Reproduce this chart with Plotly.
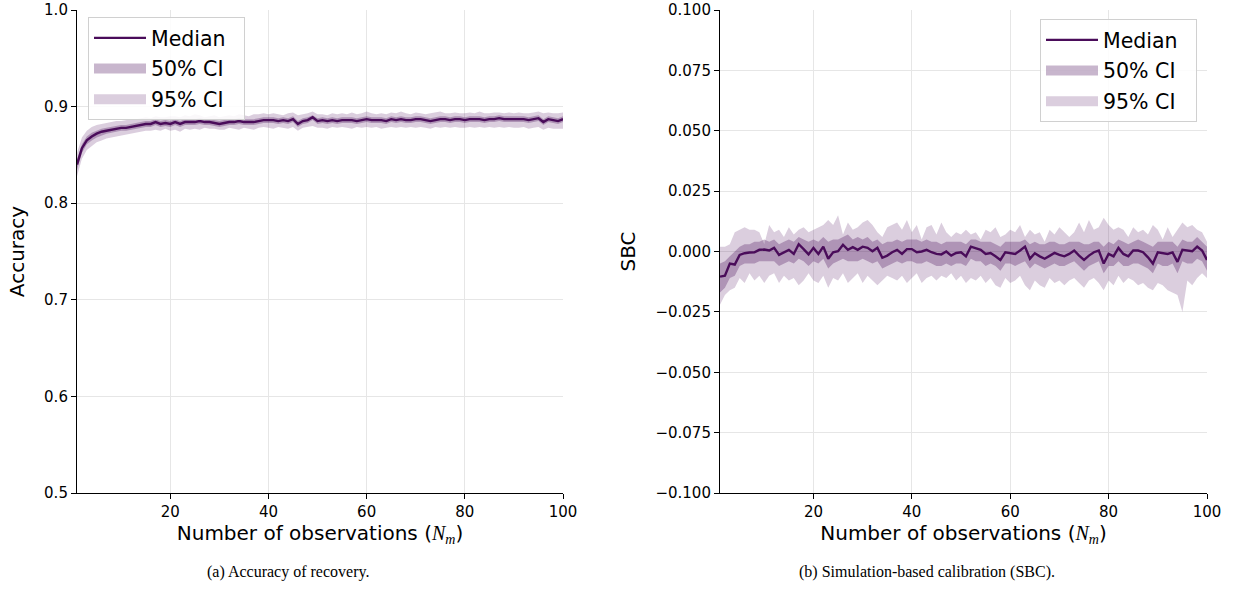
import plotly.graph_objects as go

N_OBS = list(range(1, 101))

ACC_MEDIAN = [0.840, 0.857, 0.865, 0.869, 0.872, 0.874, 0.875, 0.876, 0.877, 0.878,
              0.878, 0.879, 0.880, 0.881, 0.882, 0.882, 0.884, 0.882, 0.883, 0.882,
              0.884, 0.882, 0.884, 0.884, 0.884, 0.885, 0.884, 0.884, 0.883, 0.882,
              0.883, 0.884, 0.884, 0.885, 0.884, 0.884, 0.884, 0.885, 0.886, 0.886,
              0.886, 0.885, 0.886, 0.885, 0.887, 0.882, 0.885, 0.886, 0.889, 0.885,
              0.886, 0.885, 0.886, 0.885, 0.886, 0.886, 0.886, 0.885, 0.886, 0.887,
              0.886, 0.886, 0.886, 0.885, 0.887, 0.886, 0.887, 0.886, 0.886, 0.887,
              0.887, 0.886, 0.885, 0.886, 0.887, 0.887, 0.886, 0.887, 0.887, 0.886,
              0.887, 0.887, 0.887, 0.886, 0.887, 0.887, 0.888, 0.887, 0.887, 0.887,
              0.887, 0.887, 0.886, 0.887, 0.888, 0.884, 0.887, 0.886, 0.885, 0.887]
ACC_UP50 = [0.845, 0.861, 0.869, 0.873, 0.875, 0.877, 0.878, 0.879, 0.880, 0.881,
            0.881, 0.882, 0.883, 0.884, 0.885, 0.885, 0.887, 0.885, 0.886, 0.885,
            0.887, 0.885, 0.887, 0.887, 0.887, 0.888, 0.887, 0.887, 0.886, 0.885,
            0.886, 0.887, 0.887, 0.888, 0.887, 0.887, 0.887, 0.888, 0.889, 0.889,
            0.889, 0.888, 0.889, 0.888, 0.890, 0.885, 0.888, 0.889, 0.891, 0.888,
            0.889, 0.888, 0.889, 0.888, 0.889, 0.889, 0.889, 0.888, 0.889, 0.890,
            0.889, 0.889, 0.889, 0.888, 0.890, 0.889, 0.890, 0.889, 0.889, 0.890,
            0.890, 0.889, 0.888, 0.889, 0.890, 0.890, 0.889, 0.890, 0.890, 0.889,
            0.890, 0.890, 0.890, 0.889, 0.890, 0.890, 0.891, 0.890, 0.890, 0.890,
            0.890, 0.890, 0.889, 0.890, 0.891, 0.887, 0.890, 0.889, 0.888, 0.890]
ACC_LO50 = [0.835, 0.852, 0.861, 0.865, 0.868, 0.870, 0.872, 0.873, 0.874, 0.875,
            0.875, 0.876, 0.877, 0.878, 0.879, 0.879, 0.881, 0.879, 0.880, 0.879,
            0.881, 0.879, 0.881, 0.881, 0.881, 0.882, 0.881, 0.881, 0.880, 0.879,
            0.880, 0.881, 0.881, 0.882, 0.881, 0.881, 0.881, 0.882, 0.883, 0.883,
            0.883, 0.882, 0.883, 0.882, 0.884, 0.879, 0.882, 0.883, 0.886, 0.882,
            0.883, 0.882, 0.883, 0.882, 0.883, 0.883, 0.883, 0.882, 0.883, 0.884,
            0.883, 0.883, 0.883, 0.882, 0.884, 0.883, 0.884, 0.883, 0.883, 0.884,
            0.884, 0.883, 0.882, 0.883, 0.884, 0.884, 0.883, 0.884, 0.884, 0.883,
            0.884, 0.884, 0.884, 0.883, 0.884, 0.884, 0.885, 0.884, 0.884, 0.884,
            0.884, 0.884, 0.883, 0.884, 0.885, 0.881, 0.884, 0.883, 0.882, 0.884]
ACC_UP95 = [0.852, 0.868, 0.875, 0.879, 0.881, 0.882, 0.883, 0.884, 0.885, 0.885,
            0.886, 0.887, 0.887, 0.888, 0.889, 0.888, 0.890, 0.889, 0.889, 0.890,
            0.890, 0.889, 0.891, 0.890, 0.892, 0.891, 0.889, 0.890, 0.891, 0.889,
            0.890, 0.891, 0.890, 0.892, 0.891, 0.890, 0.892, 0.892, 0.893, 0.892,
            0.893, 0.892, 0.891, 0.893, 0.894, 0.891, 0.892, 0.893, 0.895, 0.892,
            0.892, 0.891, 0.893, 0.892, 0.893, 0.892, 0.894, 0.892, 0.893, 0.895,
            0.893, 0.892, 0.893, 0.892, 0.894, 0.893, 0.895, 0.893, 0.892, 0.894,
            0.893, 0.892, 0.893, 0.894, 0.895, 0.893, 0.893, 0.894, 0.893, 0.893,
            0.894, 0.893, 0.895, 0.893, 0.893, 0.894, 0.894, 0.893, 0.894, 0.893,
            0.894, 0.893, 0.893, 0.894, 0.895, 0.893, 0.894, 0.893, 0.893, 0.894]
ACC_LO95 = [0.828, 0.846, 0.855, 0.859, 0.863, 0.865, 0.867, 0.868, 0.869, 0.870,
            0.871, 0.872, 0.873, 0.874, 0.875, 0.875, 0.876, 0.875, 0.877, 0.875,
            0.876, 0.874, 0.877, 0.876, 0.877, 0.876, 0.878, 0.877, 0.877, 0.876,
            0.876, 0.878, 0.877, 0.876, 0.878, 0.877, 0.876, 0.878, 0.879, 0.878,
            0.877, 0.879, 0.878, 0.877, 0.879, 0.875, 0.878, 0.879, 0.880, 0.878,
            0.878, 0.877, 0.879, 0.878, 0.879, 0.878, 0.877, 0.879, 0.878, 0.879,
            0.878, 0.879, 0.877, 0.878, 0.879, 0.878, 0.879, 0.878, 0.879, 0.878,
            0.879, 0.878, 0.877, 0.879, 0.878, 0.879, 0.878, 0.879, 0.878, 0.878,
            0.879, 0.878, 0.879, 0.878, 0.879, 0.878, 0.879, 0.878, 0.879, 0.878,
            0.878, 0.879, 0.877, 0.878, 0.879, 0.876, 0.878, 0.877, 0.877, 0.877]

SBC_MEDIAN = [-0.0104, -0.0100, -0.0050, -0.0054, -0.0014, -0.0007, -0.0004, -0.0003, 0.0007, 0.0008,
              0.0004, 0.0015, -0.0014, -0.0003, 0.0007, -0.0010, 0.0030, 0.0010, -0.0012, 0.0015,
              -0.0010, 0.0020, -0.0030, -0.0003, 0.0001, 0.0028, 0.0007, 0.0018, 0.0007, 0.0020,
              0.0015, 0.0001, 0.0015, -0.0026, -0.0017, -0.0003, 0.0007, -0.0010, 0.0010, 0.0010,
              -0.0003, 0.0000, 0.0007, -0.0003, -0.0010, -0.0012, 0.0000, -0.0017, -0.0006, -0.0003,
              -0.0020, 0.0020, 0.0014, 0.0007, -0.0010, -0.0006, -0.0020, -0.0035, -0.0003, -0.0006,
              -0.0010, 0.0004, 0.0020, -0.0030, -0.0007, -0.0020, -0.0030, -0.0018, -0.0006, -0.0014,
              -0.0020, -0.0010, 0.0004, -0.0017, -0.0035, -0.0017, -0.0003, 0.0004, -0.0050, -0.0010,
              -0.0020, 0.0015, -0.0010, -0.0020, 0.0004, 0.0004, -0.0003, -0.0024, -0.0050, -0.0003,
              -0.0006, -0.0010, -0.0004, -0.0043, 0.0007, 0.0004, 0.0001, 0.0020, 0.0004, -0.0035]
SBC_UP50 = [-0.005, -0.004, -0.002, 0.000, 0.002, 0.003, 0.003, 0.004, 0.004, 0.005,
            0.004, 0.005, 0.003, 0.004, 0.005, 0.004, 0.006, 0.005, 0.004, 0.005,
            0.004, 0.006, 0.004, 0.005, 0.005, 0.006, 0.007, 0.005, 0.006, 0.005,
            0.006, 0.004, 0.005, 0.003, 0.004, 0.004, 0.005, 0.004, 0.005, 0.005,
            0.005, 0.004, 0.005, 0.004, 0.004, 0.003, 0.004, 0.004, 0.004, 0.004,
            0.003, 0.005, 0.005, 0.004, 0.004, 0.004, 0.003, 0.002, 0.004, 0.004,
            0.004, 0.004, 0.005, 0.003, 0.004, 0.003, 0.003, 0.004, 0.004, 0.003,
            0.003, 0.004, 0.004, 0.004, 0.003, 0.003, 0.004, 0.004, 0.002, 0.004,
            0.003, 0.005, 0.004, 0.003, 0.004, 0.005, 0.004, 0.003, 0.002, 0.004,
            0.004, 0.004, 0.004, 0.002, 0.005, 0.004, 0.004, 0.006, 0.004, 0.002]
SBC_LO50 = [-0.017, -0.015, -0.011, -0.010, -0.006, -0.005, -0.005, -0.005, -0.004, -0.004,
            -0.004, -0.004, -0.006, -0.005, -0.004, -0.005, -0.003, -0.004, -0.006, -0.004,
            -0.005, -0.003, -0.007, -0.005, -0.004, -0.003, -0.004, -0.004, -0.004, -0.003,
            -0.004, -0.005, -0.004, -0.007, -0.006, -0.005, -0.004, -0.005, -0.004, -0.004,
            -0.005, -0.005, -0.004, -0.005, -0.006, -0.006, -0.005, -0.006, -0.005, -0.005,
            -0.006, -0.003, -0.004, -0.004, -0.006, -0.005, -0.006, -0.008, -0.005, -0.005,
            -0.006, -0.005, -0.004, -0.007, -0.005, -0.006, -0.007, -0.006, -0.005, -0.006,
            -0.006, -0.005, -0.004, -0.006, -0.008, -0.006, -0.005, -0.004, -0.009, -0.006,
            -0.006, -0.004, -0.006, -0.006, -0.005, -0.005, -0.006, -0.007, -0.009, -0.005,
            -0.006, -0.006, -0.005, -0.009, -0.004, -0.005, -0.005, -0.003, -0.004, -0.008]
SBC_UP95 = [0.002, 0.002, 0.003, 0.008, 0.009, 0.010, 0.009, 0.009, 0.008, 0.003,
            0.011, 0.008, 0.009, 0.006, 0.010, 0.007, 0.009, 0.010, 0.008, 0.009,
            0.010, 0.011, 0.013, 0.011, 0.015, 0.007, 0.012, 0.009, 0.010, 0.012,
            0.013, 0.011, 0.008, 0.006, 0.010, 0.011, 0.012, 0.009, 0.013, 0.008,
            0.011, 0.005, 0.010, 0.011, 0.007, 0.012, 0.008, 0.006, 0.008, 0.007,
            0.009, 0.007, 0.008, 0.005, 0.009, 0.008, 0.010, 0.006, 0.007, 0.009,
            0.008, 0.011, 0.006, 0.009, 0.007, 0.008, 0.004, 0.009, 0.007, 0.010,
            0.008, 0.006, 0.008, 0.012, 0.008, 0.013, 0.009, 0.010, 0.014, 0.011,
            0.009, 0.010, 0.009, 0.006, 0.010, 0.008, 0.009, 0.007, 0.011, 0.009,
            0.005, 0.010, 0.006, 0.009, 0.012, 0.010, 0.011, 0.009, 0.008, 0.004]
SBC_LO95 = [-0.022, -0.018, -0.016, -0.015, -0.011, -0.013, -0.009, -0.012, -0.010, -0.013,
            -0.010, -0.009, -0.013, -0.010, -0.012, -0.011, -0.014, -0.012, -0.009, -0.012,
            -0.013, -0.010, -0.015, -0.011, -0.012, -0.009, -0.013, -0.011, -0.009, -0.013,
            -0.010, -0.012, -0.014, -0.012, -0.010, -0.011, -0.012, -0.010, -0.013, -0.011,
            -0.009, -0.013, -0.011, -0.010, -0.012, -0.010, -0.011, -0.009, -0.012, -0.010,
            -0.013, -0.011, -0.012, -0.010, -0.013, -0.011, -0.014, -0.015, -0.011, -0.013,
            -0.012, -0.010, -0.014, -0.016, -0.012, -0.014, -0.015, -0.011, -0.013, -0.012,
            -0.014, -0.012, -0.011, -0.013, -0.015, -0.012, -0.011, -0.013, -0.016, -0.012,
            -0.014, -0.010, -0.013, -0.011, -0.012, -0.014, -0.013, -0.015, -0.016, -0.013,
            -0.014, -0.016, -0.017, -0.018, -0.025, -0.012, -0.014, -0.011, -0.009, -0.011]

X_TICKS = [20, 40, 60, 80, 100]
ACC_TICKS = [0.5, 0.6, 0.7, 0.8, 0.9, 1.0]
SBC_TICKS = [-0.100, -0.075, -0.050, -0.025, 0.000, 0.025, 0.050, 0.075, 0.100]
LEGEND_LABELS = ["Median", "50% CI", "95% CI"]

LINE_C = "rgb(74,12,90)"
C50 = "rgba(74,12,90,0.30)"
C95 = "rgba(74,12,90,0.20)"
FONT = "DejaVu Sans"
PAD = "\u00a0\u00a0"

W, H = 1234, 613
fig = go.Figure()


def add_panel(xa, ya, legend, med, lo50, up50, lo95, up95):
    for lo, up, col in ((lo95, up95, C95), (lo50, up50, C50)):
        fig.add_trace(go.Scatter(x=N_OBS, y=lo, mode="lines", line=dict(width=0),
                                 showlegend=False, hoverinfo="skip", xaxis=xa, yaxis=ya))
        fig.add_trace(go.Scatter(x=N_OBS, y=up, mode="lines", line=dict(width=0),
                                 fill="tonexty", fillcolor=col, showlegend=False,
                                 hoverinfo="skip", xaxis=xa, yaxis=ya))
    fig.add_trace(go.Scatter(x=N_OBS, y=med, mode="lines",
                             line=dict(width=2.4, color=LINE_C), showlegend=False,
                             xaxis=xa, yaxis=ya))
    # legend entries (legend-only proxies, like matplotlib handles)
    styles = [dict(width=2.4, color=LINE_C), dict(width=16, color=C50),
              dict(width=16, color=C95)]
    for i, (lab, st) in enumerate(zip(LEGEND_LABELS, styles)):
        fig.add_trace(go.Scatter(x=[None], y=[None], mode="lines", line=st,
                                 name=lab + PAD, legend=legend,
                                 legendgroup=f"{legend}{i}", legendrank=i + 1,
                                 xaxis=xa, yaxis=ya))


add_panel("x", "y", "legend", ACC_MEDIAN, ACC_LO50, ACC_UP50, ACC_LO95, ACC_UP95)
add_panel("x2", "y2", "legend2", SBC_MEDIAN, SBC_LO50, SBC_UP50, SBC_LO95, SBC_UP95)

xtitle = ("Number of observations (<span style='font-family:Liberation Serif'>"
          "<i>N</i><sub><i>m</i></sub></span>)")

common_x = dict(range=[1, 100], tickvals=X_TICKS, showgrid=True, gridcolor="#e6e6e6",
                gridwidth=1, showline=True, linecolor="black", linewidth=1.1,
                ticks="outside", ticklen=5, tickcolor="black", tickwidth=1,
                tickfont=dict(family=FONT, size=15, color="black"), zeroline=False,
                automargin=False,
                title=dict(text=xtitle, font=dict(family=FONT, size=20, color="black"),
                           standoff=4))
common_y = dict(showgrid=True, gridcolor="#e6e6e6", gridwidth=1, showline=True,
                linecolor="black", linewidth=1.1, ticks="outside", ticklen=5,
                tickcolor="black", tickwidth=1, zeroline=False, automargin=False,
                tickfont=dict(family=FONT, size=15, color="black"))

legend_common = dict(bgcolor="rgba(255,255,255,0.85)", bordercolor="#d0d0d0",
                     borderwidth=1, font=dict(family=FONT, size=20.5, color="black"),
                     tracegroupgap=1, traceorder="grouped", itemwidth=52)

yd = [(H - 493) / H, (H - 10) / H]
fig.update_layout(
    width=W, height=H, margin=dict(l=0, r=0, t=0, b=0, autoexpand=False),
    paper_bgcolor="white", plot_bgcolor="white",
    xaxis=dict(domain=[77 / W, 563 / W], anchor="y", **common_x),
    xaxis2=dict(domain=[720 / W, 1207 / W], anchor="y2", **common_x),
    yaxis=dict(domain=yd, anchor="x", range=[0.5, 1.0], tickvals=ACC_TICKS,
               tickformat=".1f",
               title=dict(text="Accuracy", font=dict(family=FONT, size=20, color="black"),
                          standoff=14), **common_y),
    yaxis2=dict(domain=yd, anchor="x2", range=[-0.1, 0.1], tickvals=SBC_TICKS,
                tickformat=".3f",
                title=dict(text="SBC", font=dict(family=FONT, size=20, color="black"),
                           standoff=14), **common_y),
    legend=dict(x=88 / W, y=1 - 17 / H, xanchor="left", yanchor="top", **legend_common),
    legend2=dict(x=1197 / W, y=1 - 19 / H, xanchor="right", yanchor="top", **legend_common),
    annotations=[
        dict(text="(a) Accuracy of recovery.", x=288 / W, y=1 - 572 / H, xref="paper",
             yref="paper", showarrow=False, xanchor="center", yanchor="middle",
             font=dict(family="Liberation Serif", size=16, color="black")),
        dict(text="(b) Simulation-based calibration (SBC).", x=927 / W, y=1 - 572 / H,
             xref="paper", yref="paper", showarrow=False, xanchor="center",
             yanchor="middle",
             font=dict(family="Liberation Serif", size=16, color="black")),
    ],
)

fig.write_html("out.html")
